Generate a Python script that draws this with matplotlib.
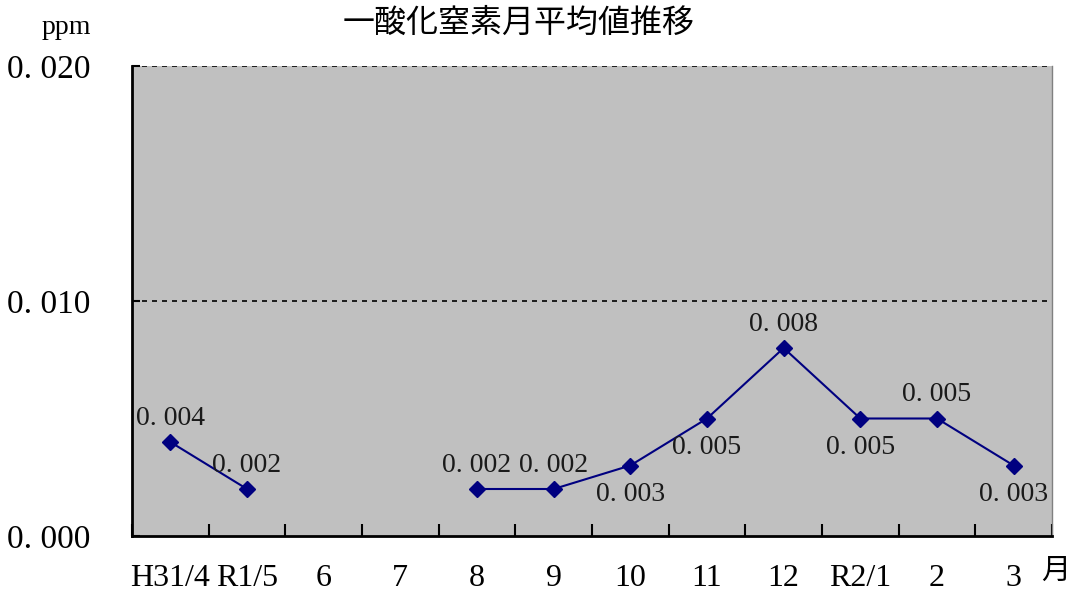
import numpy as np
import matplotlib
matplotlib.use('Agg')
import matplotlib.pyplot as plt

plt.rcParams['font.family'] = ['Liberation Serif', 'Noto Sans CJK JP']

# data
months = ['H31/4', 'R1/5', '6', '7', '8', '9', '10', '11', '12', 'R2/1', '2', '3']
no_ppm = [0.004, 0.002, np.nan, np.nan, 0.002, 0.002, 0.003, 0.005, 0.008, 0.005, 0.005, 0.003]
# where each value label sits: above / below the point
label_side = ['up', 'up', None, None, 'up', 'up', 'down', 'down', 'up', 'down', 'up', 'down']
yticks = [0.000, 0.010, 0.020]

def fmt(v):
    s = f'{v:.3f}'
    return s.replace('.', '. ')

fig = plt.figure(figsize=(10.7, 5.93), dpi=100)
ax = fig.add_axes([132/1070, 1 - 536/593, 920/1070, 470/593])
ax.set_facecolor('#C0C0C0')

x = np.arange(len(months))
ax.plot(x, no_ppm, color='#000080', lw=1.5, marker='D', markersize=8.5, zorder=3)

for xi, v, side in zip(x, no_ppm, label_side):
    if side is None:
        continue
    if side == 'up':
        ax.annotate(fmt(v), (xi, v), xytext=(0, 8), textcoords='offset points',
                    ha='center', va='bottom', fontsize=20, color='#1a1a1a')
    else:
        ax.annotate(fmt(v), (xi, v), xytext=(0, -12), textcoords='offset points',
                    ha='center', va='top', fontsize=20, color='#1a1a1a')

ax.set_xlim(-0.5, len(months) - 0.5)
ax.set_ylim(0, 0.020)

# grid lines
for g in yticks[1:]:
    ax.axhline(g, color='black', lw=1.2, ls=(0, (3, 3)), zorder=1)

ax.set_yticks(yticks)
ax.set_yticklabels([fmt(t) for t in yticks], fontsize=24)
ax.tick_params(axis='y', direction='in', length=6, width=1.5, pad=30)

# ticks between categories, labels at centers
ax.set_xticks(np.arange(len(months) + 1) - 0.5)
ax.set_xticklabels([])
ax.tick_params(axis='x', which='major', direction='in', length=9, width=1.5)
ax.set_xticks(x, minor=True)
ax.set_xticklabels(months, minor=True, fontsize=23)
ax.tick_params(axis='x', which='minor', length=0, pad=20)

for s in ['left', 'bottom']:
    ax.spines[s].set_linewidth(2)
    ax.spines[s].set_color('black')
ax.spines['top'].set_visible(False)
ax.spines['right'].set_color('#808080')
ax.spines['right'].set_linewidth(1)

fig.text(519/1070, 1 - 24/593, '一酸化窒素月平均値推移', ha='center', va='center', fontsize=23)
fig.text(66/1070, 1 - 27/593, 'ppm', ha='center', va='center', fontsize=20)
fig.text(1056/1070, 1 - 572/593, '月', ha='center', va='center', fontsize=21)

fig.savefig('out.png', dpi=100)
